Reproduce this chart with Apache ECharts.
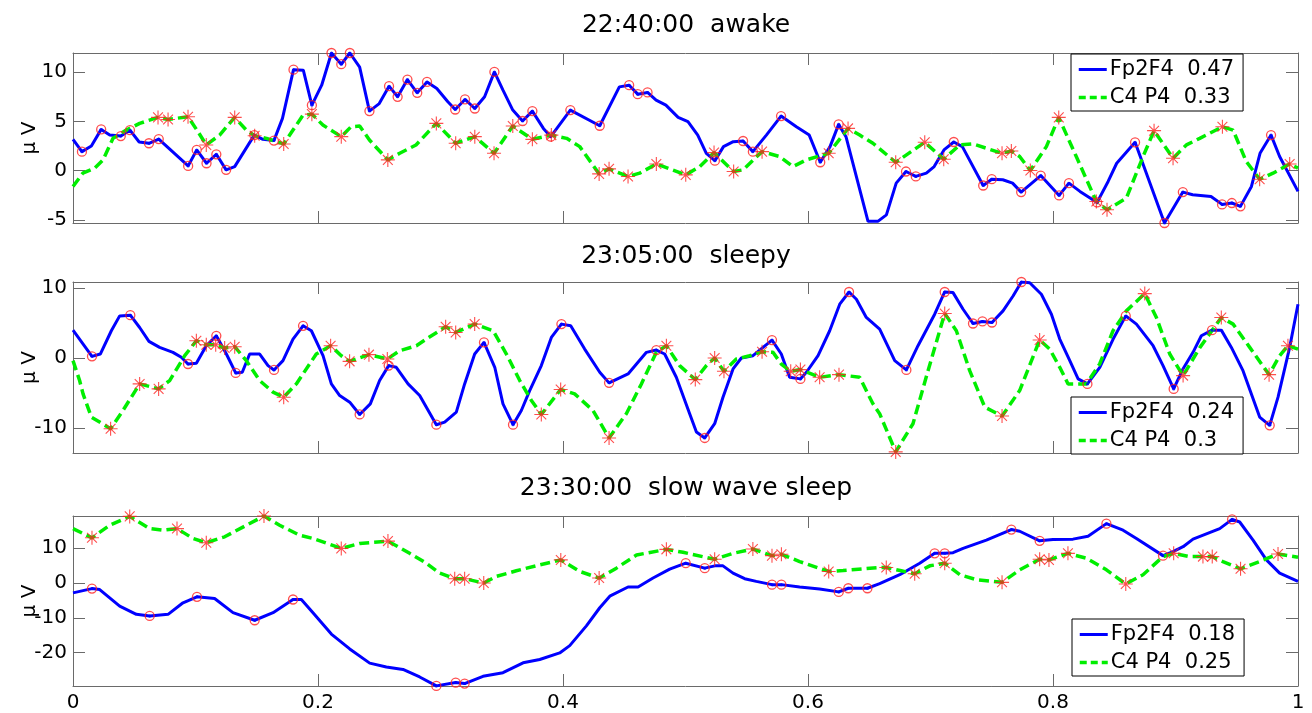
<!DOCTYPE html>
<html><head><meta charset="utf-8">
<script src="https://cdn.jsdelivr.net/npm/echarts@6/dist/echarts.min.js"></script>
<style>html,body{margin:0;padding:0;background:#fff}#c{width:1312px;height:713px}</style>
</head><body><div id="c"></div><script>
// ---------- tick labels ----------
const xTicks = [0, 0.2, 0.4, 0.6, 0.8, 1];
const yTicksAwake = [-5, 0, 5, 10];
const yTicksSleepy = [-10, 0, 10];
const yTicksSws = [-20, -10, 0, 10];

// ---------- titles & legend labels ----------
const titles = ['22:40:00  awake', '23:05:00  sleepy', '23:30:00  slow wave sleep'];
const legendAwake = ['Fp2F4  0.47', 'C4 P4  0.33'];
const legendSleepy = ['Fp2F4  0.24', 'C4 P4  0.3'];
const legendSws = ['Fp2F4  0.18', 'C4 P4  0.25'];
const yName = 'μ V';

// ---------- panel 1: awake ----------
const awakeFp2F4 = [[0,3.17],[0.0073,1.92],[0.015,2.5],[0.023,4.18],[0.030,3.6],[0.039,3.5],[0.0465,4.1],[0.054,2.9],[0.062,2.77],[0.070,3.2],[0.094,0.47],[0.101,2.09],[0.109,0.74],[0.117,1.65],[0.125,0.07],[0.132,0.4],[0.148,3.6],[0.155,3.17],[0.164,3.04],[0.171,5.3],[0.180,10.25],[0.188,10.2],[0.195,6.64],[0.203,8.67],[0.211,11.94],[0.219,10.8],[0.226,11.94],[0.234,10.5],[0.242,6.04],[0.250,6.8],[0.258,8.57],[0.265,7.49],[0.273,9.24],[0.281,7.89],[0.289,9.0],[0.297,8.33],[0.306,6.98],[0.312,6.2],[0.320,7.22],[0.328,6.3],[0.336,7.49],[0.344,10.02],[0.351,8.16],[0.359,6.14],[0.367,5.03],[0.375,6.04],[0.384,4.28],[0.390,3.44],[0.406,6.14],[0.430,4.55],[0.446,8.5],[0.454,8.67],[0.461,7.76],[0.469,7.93],[0.476,7.15],[0.484,6.64],[0.494,5.4],[0.502,4.96],[0.510,3.6],[0.517,1.75],[0.524,1.0],[0.531,2.43],[0.539,2.93],[0.547,3.0],[0.555,1.92],[0.566,3.6],[0.578,5.53],[0.5905,4.45],[0.601,3.6],[0.610,0.84],[0.618,2.43],[0.625,4.69],[0.631,3.44],[0.649,-5.16],[0.657,-5.16],[0.664,-4.5],[0.672,-1.28],[0.680,-0.1],[0.688,-0.6],[0.6966,-0.27],[0.703,0.4],[0.711,2.09],[0.719,2.9],[0.726,2.43],[0.743,-1.52],[0.750,-0.88],[0.759,-0.94],[0.767,-1.28],[0.774,-2.19],[0.790,-0.51],[0.805,-2.53],[0.813,-1.28],[0.822,-2.12],[0.836,-3.24],[0.845,-1.11],[0.852,0.74],[0.867,2.87],[0.891,-5.33],[0.906,-2.19],[0.914,-2.46],[0.929,-2.63],[0.938,-3.44],[0.946,-3.3],[0.953,-3.64],[0.962,-1.62],[0.969,1.75],[0.978,3.6],[0.985,1.42],[1.0,-2.12]];
const awakeFp2F4Ext = [[0.0073,1.92],[0.023,4.18],[0.039,3.5],[0.0465,4.1],[0.062,2.77],[0.070,3.2],[0.094,0.47],[0.101,2.09],[0.109,0.74],[0.117,1.65],[0.125,0.07],[0.148,3.6],[0.164,3.04],[0.180,10.25],[0.195,6.64],[0.211,11.94],[0.219,10.8],[0.226,11.94],[0.242,6.04],[0.258,8.57],[0.265,7.49],[0.273,9.24],[0.281,7.89],[0.289,9.0],[0.312,6.2],[0.320,7.22],[0.328,6.3],[0.344,10.02],[0.367,5.03],[0.375,6.04],[0.390,3.44],[0.406,6.14],[0.430,4.55],[0.454,8.67],[0.461,7.76],[0.469,7.93],[0.524,1.0],[0.547,3.0],[0.555,1.92],[0.578,5.53],[0.610,0.84],[0.625,4.69],[0.680,-0.1],[0.688,-0.6],[0.719,2.9],[0.743,-1.52],[0.750,-0.88],[0.774,-2.19],[0.790,-0.51],[0.805,-2.53],[0.813,-1.28],[0.836,-3.24],[0.867,2.87],[0.891,-5.33],[0.906,-2.19],[0.938,-3.44],[0.946,-3.3],[0.953,-3.64],[0.978,3.6]];
const awakeC4P4 = [[0,-1.62],[0.008,-0.27],[0.0177,0.24],[0.0245,1.08],[0.0327,3.27],[0.0435,4.11],[0.0544,4.79],[0.0694,5.4],[0.0776,5.19],[0.0939,5.46],[0.102,3.95],[0.1088,2.6],[0.1197,3.6],[0.132,5.4],[0.1415,4.11],[0.1483,3.54],[0.158,3.27],[0.172,2.7],[0.1796,4.11],[0.1878,5.63],[0.195,5.73],[0.204,4.62],[0.219,3.44],[0.227,4.45],[0.234,4.52],[0.242,3.1],[0.257,1.08],[0.2667,1.75],[0.280,2.6],[0.2966,4.79],[0.3124,2.77],[0.328,3.44],[0.3437,1.75],[0.359,4.52],[0.375,3.17],[0.3905,3.6],[0.403,3.27],[0.4137,2.43],[0.4295,-0.34],[0.4376,0.17],[0.4531,-0.61],[0.4626,-0.27],[0.4762,0.67],[0.5002,-0.44],[0.5116,0.4],[0.5233,1.82],[0.5393,-0.1],[0.547,0.07],[0.5625,1.92],[0.5768,1.42],[0.5877,0.4],[0.5986,1.08],[0.6169,1.75],[0.6327,4.28],[0.6422,3.6],[0.653,2.77],[0.6716,0.84],[0.6953,2.87],[0.7108,1.15],[0.7238,2.6],[0.7347,2.7],[0.7584,1.75],[0.7660,1.99],[0.7728,1.42],[0.7815,0.0],[0.7946,2.43],[0.8047,5.4],[0.819,1.42],[0.8354,-3.14],[0.8441,-3.98],[0.8599,-2.8],[0.8735,1.42],[0.8825,4.05],[0.8980,1.25],[0.9089,2.6],[0.9198,3.27],[0.9383,4.45],[0.947,4.11],[0.9578,0.91],[0.9687,-0.88],[0.9796,-0.27],[0.9932,0.67],[1.0,0.24]];
const awakeC4P4Ext = [[0.0694,5.4],[0.0776,5.19],[0.0939,5.46],[0.1088,2.6],[0.132,5.4],[0.1483,3.54],[0.172,2.7],[0.195,5.73],[0.219,3.44],[0.257,1.08],[0.2966,4.79],[0.3124,2.77],[0.328,3.44],[0.3437,1.75],[0.359,4.52],[0.375,3.17],[0.3905,3.6],[0.4295,-0.34],[0.4376,0.17],[0.4531,-0.61],[0.4762,0.67],[0.5002,-0.44],[0.5233,1.82],[0.5393,-0.1],[0.5625,1.92],[0.6169,1.75],[0.6327,4.28],[0.6716,0.84],[0.6953,2.87],[0.7108,1.15],[0.7584,1.75],[0.7660,1.99],[0.7815,0.0],[0.8047,5.4],[0.8354,-3.14],[0.8441,-3.98],[0.8825,4.05],[0.8980,1.25],[0.9383,4.45],[0.9687,-0.88],[0.9932,0.67]];

// ---------- panel 2: sleepy ----------
const sleepyFp2F4 = [[0,3.99],[0.0155,0.24],[0.0223,0.57],[0.0313,3.9],[0.0381,6.03],[0.0468,6.13],[0.0544,4.37],[0.062,2.38],[0.0707,1.52],[0.0816,0.81],[0.0884,0.1],[0.0939,-0.86],[0.1007,-0.76],[0.1088,1.76],[0.117,3.18],[0.1252,0.57],[0.1328,-2.14],[0.1382,-2.04],[0.1442,0.57],[0.1524,0.57],[0.1592,-1.09],[0.1641,-1.71],[0.1714,-0.38],[0.1796,2.71],[0.1878,4.61],[0.1946,3.9],[0.2041,0.33],[0.2109,-3.71],[0.2177,-5.37],[0.2259,-6.32],[0.234,-8.08],[0.2427,-6.56],[0.2503,-3.23],[0.2577,-1.09],[0.2639,-1.33],[0.2735,-3.71],[0.283,-5.37],[0.2966,-9.55],[0.3034,-9.17],[0.3129,-7.74],[0.3197,-3.71],[0.3279,0.57],[0.3355,2.23],[0.3443,-1.33],[0.351,-6.56],[0.3592,-9.55],[0.3660,-7.51],[0.3728,-4.66],[0.3823,-1.09],[0.3905,2.95],[0.3987,4.85],[0.4063,4.61],[0.4177,1.28],[0.43,-2.04],[0.4376,-3.56],[0.4531,-2.28],[0.4681,0.81],[0.4762,1.14],[0.483,0.57],[0.4925,-2.76],[0.5034,-7.98],[0.5089,-10.59],[0.5157,-11.45],[0.5238,-9.41],[0.5306,-5.61],[0.5388,-1.57],[0.5456,0],[0.5551,0.33],[0.5633,1.52],[0.5706,2.57],[0.5782,0.57],[0.585,-2.76],[0.5938,-2.99],[0.5987,-2.04],[0.6082,0.33],[0.6177,3.9],[0.6259,7.7],[0.6335,9.45],[0.6395,8.41],[0.6476,5.8],[0.6585,4.13],[0.6708,-0.38],[0.6803,-1.71],[0.6898,1.76],[0.7034,6.27],[0.7116,9.45],[0.7184,9.36],[0.7266,6.98],[0.7347,4.94],[0.7424,5.23],[0.7502,5.08],[0.7592,6.75],[0.7674,8.88],[0.7742,10.88],[0.781,10.78],[0.7905,9.12],[0.7987,6.27],[0.8055,2.71],[0.8137,-0.38],[0.8205,-2.99],[0.8281,-3.71],[0.8382,-1.33],[0.8491,2.71],[0.8594,6.03],[0.8681,4.85],[0.8817,1.76],[0.8898,-1.09],[0.8985,-4.42],[0.9061,-1.57],[0.9143,0.81],[0.9211,3.18],[0.9298,3.99],[0.9374,3.99],[0.9456,1.52],[0.9551,-1.81],[0.9687,-8.46],[0.9769,-9.64],[0.9837,-5.61],[0.9932,1.52],[1.0,7.7]];
const sleepyFp2F4Ext = [[0.0155,0.24],[0.0468,6.13],[0.0939,-0.86],[0.117,3.18],[0.1328,-2.14],[0.1641,-1.71],[0.1878,4.61],[0.234,-8.08],[0.2577,-1.09],[0.2966,-9.55],[0.3355,2.23],[0.3592,-9.55],[0.3987,4.85],[0.4376,-3.56],[0.4762,1.14],[0.5157,-11.45],[0.5706,2.57],[0.5938,-2.99],[0.6335,9.45],[0.6803,-1.71],[0.7116,9.45],[0.7347,4.94],[0.7424,5.23],[0.7502,5.08],[0.7742,10.88],[0.8281,-3.71],[0.8594,6.03],[0.8985,-4.42],[0.9298,3.99],[0.9769,-9.64]];
const sleepyC4P4 = [[0,-0.38],[0.0054,-3.23],[0.0082,-5.13],[0.015,-8.46],[0.0307,-10.12],[0.0408,-7.51],[0.0544,-3.71],[0.0699,-4.42],[0.0789,-3.23],[0.0912,0.33],[0.1007,2.47],[0.1088,1.9],[0.1165,1.9],[0.1238,1.43],[0.132,1.62],[0.1415,-0.38],[0.1524,-3.23],[0.1633,-4.89],[0.172,-5.61],[0.1823,-3.71],[0.1986,0.57],[0.2103,1.76],[0.219,0.33],[0.2258,-0.48],[0.2416,0.48],[0.2566,-0.14],[0.2667,1.05],[0.2803,1.76],[0.2884,2.71],[0.3042,4.47],[0.3124,3.66],[0.3279,4.85],[0.343,3.9],[0.3538,0.57],[0.3647,-3.23],[0.3742,-6.08],[0.3823,-8.08],[0.3981,-4.51],[0.4095,-5.13],[0.4245,-7.51],[0.4376,-11.45],[0.4517,-7.98],[0.4640,-3.71],[0.4762,0.81],[0.4844,1.76],[0.4952,-1.09],[0.508,-3.09],[0.517,-1.09],[0.5238,0],[0.5314,-1.9],[0.5415,-0.14],[0.5524,0.33],[0.5625,0.9],[0.5714,0.81],[0.5782,-0.86],[0.5859,-1.9],[0.5938,-1.66],[0.6095,-2.76],[0.6253,-2.38],[0.6422,-2.76],[0.653,-6.56],[0.6585,-7.98],[0.6716,-13.44],[0.6857,-9.41],[0.698,-1.81],[0.7116,6.37],[0.7211,3.9],[0.732,-1.81],[0.7443,-7.03],[0.7584,-8.31],[0.7728,-4.66],[0.7891,2.57],[0.7973,1.28],[0.8055,-1.33],[0.8123,-3.71],[0.8272,-3.71],[0.8381,-0.86],[0.8490,3.9],[0.8599,6.75],[0.8749,9.22],[0.8844,5.8],[0.8953,0.57],[0.9062,-2.52],[0.92,1.52],[0.9374,5.8],[0.947,4.85],[0.9606,1.52],[0.9764,-2.38],[0.985,0.33],[0.9918,1.76],[1.0,1.28]];
const sleepyC4P4Ext = [[0.0307,-10.12],[0.0544,-3.71],[0.0699,-4.42],[0.1007,2.47],[0.1088,1.9],[0.1165,1.9],[0.1238,1.43],[0.132,1.62],[0.172,-5.61],[0.2103,1.76],[0.2258,-0.48],[0.2416,0.48],[0.2566,-0.14],[0.3042,4.47],[0.3124,3.66],[0.3279,4.85],[0.3823,-8.08],[0.3981,-4.51],[0.4376,-11.45],[0.4844,1.76],[0.508,-3.09],[0.5238,0],[0.5314,-1.9],[0.5625,0.9],[0.5859,-1.9],[0.5938,-1.66],[0.6095,-2.76],[0.6253,-2.38],[0.6716,-13.44],[0.7116,6.37],[0.7584,-8.31],[0.7891,2.57],[0.8749,9.22],[0.9062,-2.52],[0.9374,5.8],[0.9764,-2.38],[0.9918,1.76]];

// ---------- panel 3: slow wave sleep ----------
const swsFp2F4 = [[0,-2.84],[0.0155,-1.61],[0.0218,-1.89],[0.0381,-6.62],[0.0517,-8.99],[0.0626,-9.46],[0.0776,-8.99],[0.0898,-5.68],[0.1012,-3.97],[0.1156,-4.45],[0.1306,-8.51],[0.1483,-10.69],[0.1633,-8.51],[0.1796,-4.73],[0.1864,-4.73],[0.1959,-8.51],[0.2109,-14.66],[0.2259,-18.92],[0.2422,-22.99],[0.2558,-24.12],[0.2694,-24.79],[0.283,-26.96],[0.2966,-29.52],[0.3124,-28.57],[0.3197,-28.86],[0.3347,-26.77],[0.351,-25.73],[0.3674,-22.89],[0.381,-21.95],[0.3973,-20.06],[0.4055,-17.97],[0.4191,-12.3],[0.43,-7.1],[0.4382,-3.78],[0.4531,-1.14],[0.4613,-1.14],[0.4735,1.42],[0.4871,3.97],[0.5002,5.68],[0.5157,4.26],[0.5239,4.92],[0.5306,4.92],[0.5388,2.84],[0.5483,1.23],[0.5578,0.47],[0.5706,-0.47],[0.5783,-0.47],[0.5932,-1.14],[0.6095,-1.7],[0.6251,-2.55],[0.6329,-1.51],[0.6485,-1.51],[0.6585,-0.19],[0.6749,2.37],[0.6912,5.68],[0.7034,8.51],[0.7116,8.51],[0.7184,8.7],[0.7266,9.93],[0.7456,12.3],[0.7660,15.33],[0.7728,14.85],[0.7891,12.11],[0.8000,12.49],[0.8163,12.58],[0.8286,13.43],[0.8436,17.03],[0.8572,15.14],[0.8681,12.77],[0.8898,7.85],[0.898,8.99],[0.9062,10.41],[0.9143,12.58],[0.9361,15.61],[0.9462,18.26],[0.9524,17.5],[0.9633,12.3],[0.9742,6.62],[0.985,2.84],[1.0,0.47]];
const swsFp2F4Ext = [[0.0155,-1.61],[0.0626,-9.46],[0.1012,-3.97],[0.1483,-10.69],[0.1796,-4.73],[0.2966,-29.52],[0.3124,-28.57],[0.3197,-28.86],[0.5002,5.68],[0.5157,4.26],[0.5706,-0.47],[0.5783,-0.47],[0.6251,-2.55],[0.6329,-1.51],[0.6485,-1.51],[0.7034,8.51],[0.7116,8.51],[0.7660,15.33],[0.7891,12.11],[0.8436,17.03],[0.8898,7.85],[0.9462,18.26]];
const swsC4P4 = [[0,15.61],[0.0155,12.96],[0.0299,16.56],[0.0463,19.11],[0.0626,15.61],[0.0735,15.14],[0.0849,15.61],[0.098,12.77],[0.1088,11.54],[0.1238,13.25],[0.1415,16.56],[0.1559,19.21],[0.1687,16.56],[0.185,13.72],[0.1959,12.77],[0.219,9.93],[0.234,11.35],[0.2571,12.02],[0.2748,8.51],[0.2884,5.68],[0.2993,2.84],[0.3116,1.23],[0.3197,1.23],[0.3353,0],[0.3456,1.89],[0.3619,3.5],[0.381,5.2],[0.3982,6.62],[0.4137,3.31],[0.4295,1.42],[0.4436,4.26],[0.46,8.04],[0.4844,9.65],[0.498,8.8],[0.5238,6.81],[0.5388,8.51],[0.555,9.74],[0.5706,7.85],[0.5783,8.23],[0.5932,6.15],[0.6169,3.31],[0.6286,3.6],[0.6585,4.45],[0.6639,4.45],[0.6762,3.5],[0.6871,2.65],[0.6994,4.92],[0.7116,5.68],[0.7239,2.37],[0.7375,0.95],[0.7584,0.19],[0.7728,3.78],[0.7891,6.81],[0.7967,6.62],[0.8122,8.51],[0.8272,7.1],[0.8436,3.78],[0.8594,-0.28],[0.8735,2.37],[0.8898,7.57],[0.8985,8.51],[0.9116,7.57],[0.9224,7.57],[0.9300,7.57],[0.9387,6.15],[0.9531,4.07],[0.9687,6.15],[0.9837,8.33],[1.0,7.38]];
const swsC4P4Ext = [[0.0155,12.96],[0.0463,19.11],[0.0849,15.61],[0.1088,11.54],[0.1559,19.21],[0.219,9.93],[0.2571,12.02],[0.3116,1.23],[0.3197,1.23],[0.3353,0],[0.3982,6.62],[0.4295,1.42],[0.4844,9.65],[0.5238,6.81],[0.555,9.74],[0.5706,7.85],[0.5783,8.23],[0.6169,3.31],[0.6639,4.45],[0.6871,2.65],[0.7116,5.68],[0.7584,0.19],[0.7891,6.81],[0.7967,6.62],[0.8122,8.51],[0.8594,-0.28],[0.8985,8.51],[0.9224,7.57],[0.9300,7.57],[0.9531,4.07],[0.9837,8.33]];

// ---------- build ----------
const FONT = 'DejaVu Sans';
const AXC = '#6a6a6a';
const BLUE = '#0000ff', GREEN = '#00ee00', RED = '#ff2020';
const ASTER = 'path://M10,0L10,20M0,10L20,10M3,3L17,17M3,17L17,3';
const GREEN_DASH = [10, 5];

const panels = [
  {title: titles[0], blue: awakeFp2F4, green: awakeC4P4, bExt: awakeFp2F4Ext, gExt: awakeC4P4Ext, leg: legendAwake, ticks: yTicksAwake, min: -5.33, max: 11.94,
   grid: {top: 53, height: 170}, titleTop: 13, legendPos: {left: 1071, top: 54}},
  {title: titles[1], blue: sleepyFp2F4, green: sleepyC4P4, bExt: sleepyFp2F4Ext, gExt: sleepyC4P4Ext, leg: legendSleepy, ticks: yTicksSleepy, min: -13.6, max: 10.88,
   grid: {top: 282, height: 171}, titleTop: 244, legendPos: {left: 1071, top: 397}},
  {title: titles[2], blue: swsFp2F4, green: swsC4P4, bExt: swsFp2F4Ext, gExt: swsC4P4Ext, leg: legendSws, ticks: yTicksSws, min: -29.55, max: 19.22,
   grid: {top: 516, height: 171}, titleTop: 476, legendPos: {left: 1072, top: 619}}
];

const option = {
  animation: false, backgroundColor: '#fff',
  title: [], grid: [], xAxis: [], yAxis: [], legend: [], series: []
};

const lineAx = {show: true, onZero: false, lineStyle: {color: AXC, width: 1}};
const tickAx = {show: true, inside: true, length: 12, lineStyle: {color: AXC, width: 1}};
const lblStyle = {color: '#000', fontFamily: FONT, fontSize: 20};

panels.forEach((p, i) => {
  option.title.push({text: p.title, left: 686, top: p.titleTop, textAlign: 'center', padding: 0,
    textStyle: {fontFamily: FONT, fontSize: 25, fontWeight: 'normal', color: '#000'}});
  option.grid.push({left: 73, width: 1225, top: p.grid.top, height: p.grid.height, containLabel: false});
  option.xAxis.push({type: 'value', gridIndex: i, min: 0, max: 1, position: 'bottom',
    axisLine: lineAx, axisTick: Object.assign({}, tickAx, {customValues: xTicks}),
    axisLabel: Object.assign({show: i === 2, margin: 7, customValues: xTicks}, lblStyle), splitLine: {show: false}});
  option.xAxis.push({type: 'value', gridIndex: i, min: 0, max: 1, position: 'top',
    axisLine: lineAx, axisTick: Object.assign({}, tickAx, {customValues: xTicks}),
    axisLabel: {show: false}, splitLine: {show: false}});
  option.yAxis.push({type: 'value', gridIndex: i, min: p.min, max: p.max, position: 'left',
    name: yName, nameLocation: 'middle', nameRotate: 90, nameGap: 33, nameMoveOverlap: false,
    nameTextStyle: {fontFamily: FONT, fontSize: 20, color: '#000'},
    axisLine: lineAx, axisTick: Object.assign({}, tickAx, {customValues: p.ticks}),
    axisLabel: Object.assign({margin: 6, customValues: p.ticks}, lblStyle), splitLine: {show: false}});
  option.yAxis.push({type: 'value', gridIndex: i, min: p.min, max: p.max, position: 'right',
    axisLine: lineAx, axisTick: Object.assign({}, tickAx, {customValues: p.ticks}),
    axisLabel: {show: false}, splitLine: {show: false}});

  const xi = i * 2, yi = i * 2;
  option.series.push({name: p.leg[0], type: 'line', xAxisIndex: xi, yAxisIndex: yi, data: p.blue,
    showSymbol: false, symbol: 'none', lineStyle: {color: BLUE, width: 3}, itemStyle: {color: BLUE}, z: 2});
  option.series.push({name: p.leg[1], type: 'line', xAxisIndex: xi, yAxisIndex: yi, data: p.green,
    showSymbol: false, symbol: 'none', lineStyle: {color: GREEN, width: 3.5, type: GREEN_DASH}, itemStyle: {color: GREEN}, z: 3});
  option.series.push({name: 'dot' + i, type: 'scatter', xAxisIndex: xi, yAxisIndex: yi, data: p.bExt,
    symbol: 'circle', symbolSize: 3, itemStyle: {color: BLUE}, clip: false, z: 4});
  option.series.push({name: 'circ' + i, type: 'scatter', xAxisIndex: xi, yAxisIndex: yi, data: p.bExt,
    symbol: 'circle', symbolSize: 9, itemStyle: {color: 'rgba(0,0,0,0)', borderColor: RED, borderWidth: 1.3}, clip: false, z: 5});
  option.series.push({name: 'ast' + i, type: 'scatter', xAxisIndex: xi, yAxisIndex: yi, data: p.gExt,
    symbol: ASTER, symbolSize: 14, itemStyle: {color: 'none', borderColor: RED, borderWidth: 1.1, opacity: 0.8}, clip: false, z: 5});

  option.legend.push({
    data: [
      {name: p.leg[0], itemStyle: {opacity: 0}, lineStyle: {color: BLUE, width: 3, type: 'solid'}},
      {name: p.leg[1], itemStyle: {opacity: 0}, lineStyle: {color: GREEN, width: 3.5, type: [7, 4]}}
    ],
    orient: 'vertical', left: p.legendPos.left, top: p.legendPos.top,
    padding: [5, 9, 3, 6], itemGap: 7, itemWidth: 28, itemHeight: 14,
    backgroundColor: '#fff', borderColor: '#000', borderWidth: 1, borderRadius: 0,
    selectedMode: false, textStyle: {fontFamily: FONT, fontSize: 21, color: '#000', padding: [0, 0, 0, -2]}, z: 10});
});

const chart = echarts.init(document.getElementById('c'), null, {renderer: 'canvas'});
chart.setOption(option);
</script></body></html>
